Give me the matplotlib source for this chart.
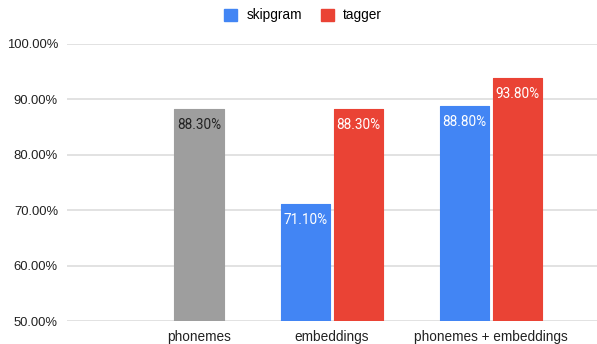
import numpy as np
import matplotlib.pyplot as plt
from matplotlib.patches import Patch

categories = ['phonemes', 'embeddings', 'phonemes + embeddings']
phonemes_only = [88.3]
skipgram = [71.1, 88.8]
tagger = [88.3, 93.8]
yticks = [50, 60, 70, 80, 90, 100]

blue = '#4285F4'
red = '#EA4335'
grey = '#9E9E9E'

plt.rcParams['font.family'] = ['Liberation Sans', 'DejaVu Sans']

fig = plt.figure(figsize=(5.97, 3.44), dpi=100)
ax = fig.add_axes([67 / 597, 23 / 344, 530 / 597, 277 / 344])

# group centres (the single phonemes bar sits under its own label)
x = np.array([0.0, 0.836, 1.836])
w = 0.31
off = 0.167

def bars(pos, vals, color, txtcolor):
    ax.bar(pos, vals, w, color=color, edgecolor=color, linewidth=0.8,
           joinstyle='round', zorder=3)
    for p, v in zip(pos, vals):
        ax.annotate(f'{v:.2f}%', (p, v), xytext=(0, -11.5), textcoords='offset points',
                    ha='center', va='center', fontsize=9.8, color=txtcolor,
                    family=['Roboto', 'DejaVu Sans'], zorder=4)

bars(x[:1], phonemes_only, grey, '#222222')
bars(x[1:] - off, skipgram, blue, 'white')
bars(x[1:] + off, tagger, red, 'white')

ax.set_ylim(50, 100)
ax.set_xlim(-0.83, 2.503)
ax.set_yticks(yticks)
ax.set_yticklabels([f'{t:.2f}%' for t in yticks], fontsize=9.4, color='#222222')
ax.set_xticks(x)
ax.set_xticklabels(categories, fontsize=9.8, color='#222222')
ax.tick_params(axis='y', length=0, pad=6.5)
ax.tick_params(axis='x', length=0, pad=6.5)
ax.grid(axis='y', color='#DDDDDD', linewidth=1.2, zorder=0)
for s in ax.spines.values():
    s.set_visible(False)

handles = [Patch(color=blue, label='skipgram'), Patch(color=red, label='tagger')]
fig.legend(handles=handles, loc='center', bbox_to_anchor=(303 / 597, 0.955), ncol=2,
           frameon=False, fontsize=9.8, handlelength=0.95, handleheight=0.95,
           handletextpad=0.7, columnspacing=1.4)

fig.savefig('out.png', dpi=100)
